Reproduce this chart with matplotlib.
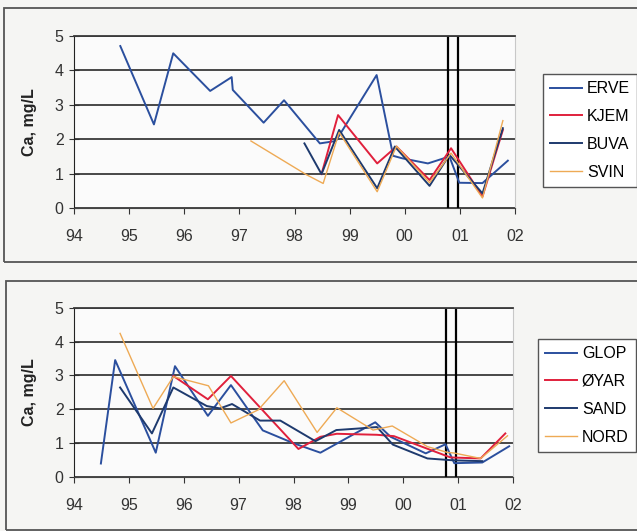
import matplotlib
matplotlib.use("Agg")
import matplotlib.pyplot as plt
from matplotlib.patches import Rectangle
from matplotlib.ticker import FuncFormatter

plt.rcParams['font.family'] = ['Liberation Sans', 'DejaVu Sans']

# years are written as 94..102 (1994-2002)
years = list(range(94, 103))
ca_ticks = [0, 1, 2, 3, 4, 5]

# sampling period markers
period_marks = [100.78, 100.96]

# --- upper panel ---
erve_x = [94.84, 95.45, 95.80, 96.47, 96.86, 96.88, 97.44, 97.81, 98.46, 98.75,
          99.49, 99.79, 99.95, 100.42, 100.81, 100.99, 101.41, 101.87]
erve_y = [4.70, 2.43, 4.49, 3.40, 3.80, 3.43, 2.48, 3.13, 1.88, 1.95,
          3.86, 1.52, 1.45, 1.30, 1.50, 0.74, 0.73, 1.38]

kjem_x = [98.49, 98.79, 99.50, 99.85, 100.45, 100.84, 101.41, 101.78]
kjem_y = [0.99, 2.70, 1.30, 1.79, 0.82, 1.74, 0.34, 2.27]

buva_x = [98.18, 98.49, 98.81, 99.50, 99.82, 100.45, 100.81, 101.41, 101.78]
buva_y = [1.88, 0.99, 2.27, 0.58, 1.79, 0.65, 1.55, 0.43, 2.32]

svin_x = [97.21, 98.22, 98.52, 98.81, 99.50, 99.85, 100.45, 100.84, 101.41, 101.78]
svin_y = [1.95, 0.97, 0.72, 2.20, 0.48, 1.80, 0.74, 1.60, 0.30, 2.54]

# --- lower panel ---
glop_x = [94.49, 94.75, 95.49, 95.84, 96.44, 96.86, 97.44, 98.00, 98.49,
          99.49, 99.77, 100.41, 100.77, 100.93, 101.44, 101.93]
glop_y = [0.39, 3.45, 0.71, 3.27, 1.80, 2.71, 1.37, 0.99, 0.71,
          1.61, 1.18, 0.69, 0.96, 0.40, 0.42, 0.90]

oyar_x = [95.81, 96.44, 96.86, 98.09, 98.49, 98.79, 99.52, 99.83, 100.86, 101.41, 101.86]
oyar_y = [2.98, 2.29, 2.98, 0.82, 1.18, 1.27, 1.24, 1.20, 0.57, 0.54, 1.28]

sand_x = [94.84, 95.42, 95.81, 96.42, 96.66, 96.88, 97.39, 97.76, 98.40, 98.78,
          99.22, 99.52, 99.81, 100.44, 100.86, 101.00, 101.44]
sand_y = [2.64, 1.28, 2.64, 2.09, 2.02, 2.15, 1.66, 1.66, 1.05, 1.38,
          1.43, 1.47, 0.95, 0.54, 0.49, 0.48, 0.46]

nord_x = [94.84, 95.44, 95.81, 96.45, 96.86, 97.36, 97.83, 98.43, 98.79, 99.45,
          99.80, 100.44, 100.80, 100.93, 101.41, 101.90]
nord_y = [4.24, 2.02, 2.96, 2.69, 1.59, 1.98, 2.84, 1.31, 2.04, 1.38,
          1.50, 0.89, 0.72, 0.70, 0.54, 1.21]

W, H = 637, 531
fig = plt.figure(figsize=(W / 100, H / 100), dpi=100, facecolor='#f5f5f3')


def px_axes(left, top, right, bottom):
    return fig.add_axes([left / W, 1 - bottom / H, (right - left) / W, (bottom - top) / H])


def style_axes(ax):
    ax.set_facecolor('#fbfbfb')
    ax.set_xlim(94, 102)
    ax.set_ylim(0, 5)
    ax.set_xticks(years)
    ax.xaxis.set_major_formatter(FuncFormatter(lambda v, p: f"{int(round(v)) % 100:02d}"))
    ax.set_yticks(ca_ticks)
    ax.grid(axis='y', color='#3a3a3a', lw=1.3)
    ax.set_axisbelow(True)
    ax.spines['top'].set_color('#3a3a3a')
    ax.spines['top'].set_linewidth(1.3)
    ax.spines['right'].set_color('#c8c8c8')
    ax.spines['left'].set_color('#222222')
    ax.spines['bottom'].set_color('#444444')
    ax.tick_params(axis='x', direction='out', length=4, pad=11, labelsize=11.5,
                   colors='#333333')
    ax.tick_params(axis='y', direction='inout', length=7, pad=4, labelsize=11.5,
                   colors='#333333')
    ax.set_ylabel('Ca, mg/L', fontsize=11.5, fontweight='bold', color='#222222')
    ax.yaxis.set_label_coords(-0.084, 0.5)
    for m in period_marks:
        ax.axvline(m, color='black', lw=1.6, zorder=1)


# panel frames
fig.add_artist(Rectangle((4 / W, 1 - 262 / H), 1.0, 254 / H, transform=fig.transFigure,
                         fill=False, ec='#555555', lw=1.3))
fig.add_artist(Rectangle((6 / W, 1 - 530 / H), 1.0, 249 / H, transform=fig.transFigure,
                         fill=False, ec='#555555', lw=1.3))

leg_kw = dict(fontsize=11.5, handlelength=2.0, handletextpad=0.3, labelspacing=0.8,
              borderpad=0.45, borderaxespad=0, fancybox=False, framealpha=1,
              edgecolor='#555555', loc='upper left', bbox_transform=fig.transFigure)

ax1 = px_axes(74, 35.7, 515, 208.3)
style_axes(ax1)
ax1.plot(erve_x, erve_y, color='#2b4f9e', lw=1.4, label='ERVE')
ax1.plot(kjem_x, kjem_y, color='#e0203c', lw=1.4, label='KJEM')
ax1.plot(buva_x, buva_y, color='#1e3a6e', lw=1.4, label='BUVA')
ax1.plot(svin_x, svin_y, color='#eeaa55', lw=1.0, label='SVIN')
ax1.legend(bbox_to_anchor=(543 / W, 1 - 74 / H), **leg_kw)

ax2 = px_axes(74, 307.7, 513, 476.7)
style_axes(ax2)
ax2.plot(glop_x, glop_y, color='#2b4f9e', lw=1.4, label='GLOP')
ax2.plot(oyar_x, oyar_y, color='#e0203c', lw=1.4, label='ØYAR')
ax2.plot(sand_x, sand_y, color='#1e3a6e', lw=1.4, label='SAND')
ax2.plot(nord_x, nord_y, color='#eeaa55', lw=1.0, label='NORD')
ax2.legend(bbox_to_anchor=(538 / W, 1 - 339 / H), **leg_kw)

fig.savefig('out.png', dpi=100, facecolor=fig.get_facecolor())
